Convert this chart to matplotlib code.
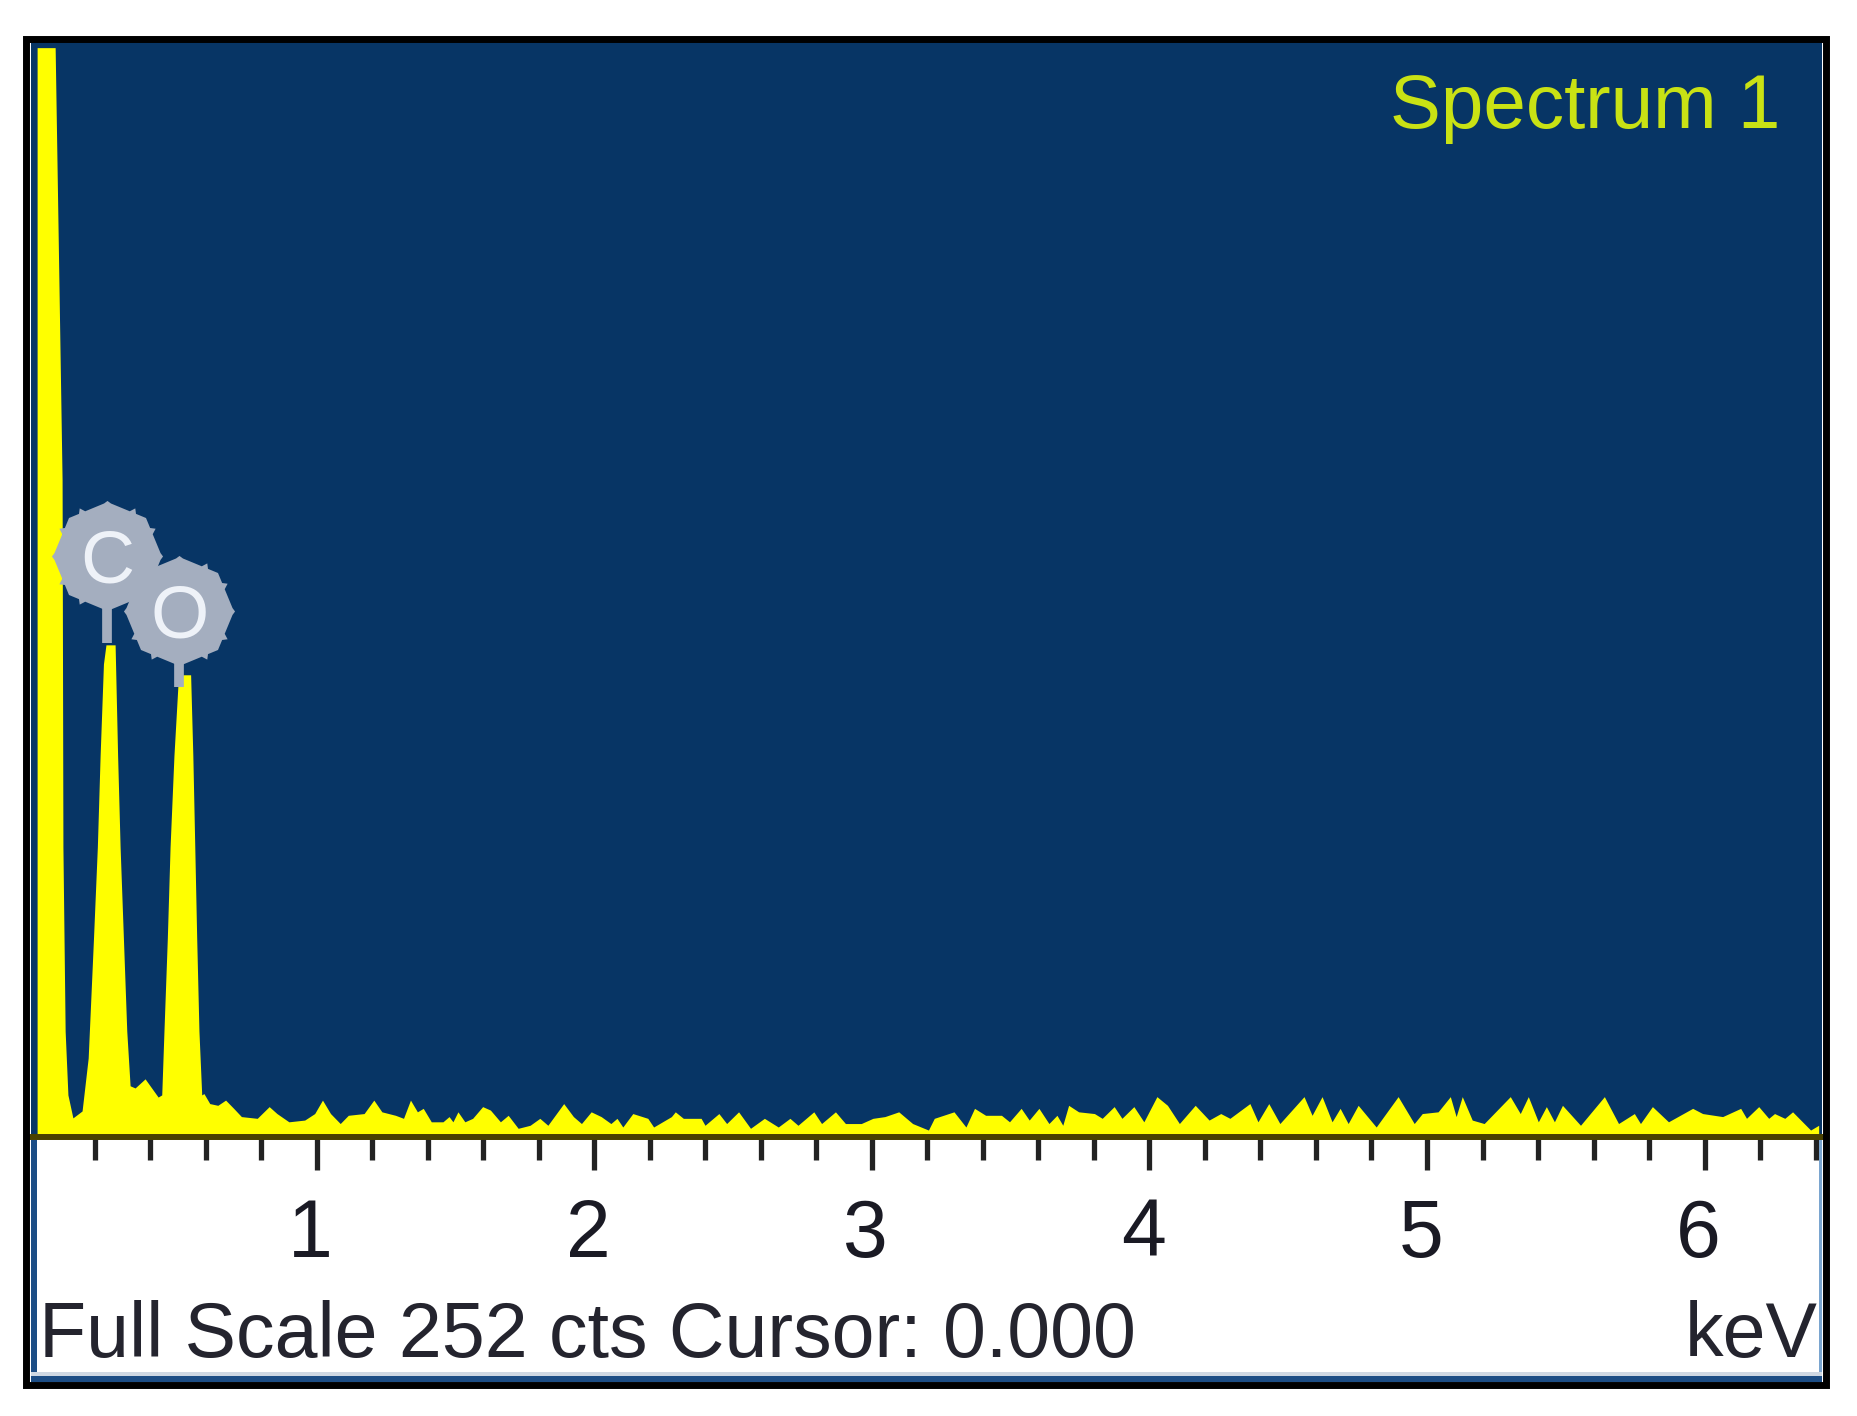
import matplotlib

matplotlib.use("Agg")

import matplotlib.pyplot as plt
import numpy as np
from matplotlib.patches import Rectangle

plt.rcParams["font.family"] = ["Liberation Sans", "DejaVu Sans"]

# spectrum outline
energy_kev = [
    -0.007, 0.058, 0.083, 0.086, 0.094, 0.104, 0.122, 0.155, 0.177, 0.196,
    0.210, 0.220, 0.232, 0.241, 0.274, 0.283, 0.292, 0.304, 0.316, 0.328,
    0.346, 0.382, 0.429, 0.442, 0.450, 0.462, 0.472, 0.486, 0.502, 0.519,
    0.546, 0.554, 0.561, 0.568, 0.576, 0.586,
    0.594, 0.615, 0.644,
    0.672, 0.701, 0.729, 0.786, 0.829, 0.857, 0.900, 0.957, 0.993, 1.021,
    1.050, 1.085, 1.114, 1.171, 1.206, 1.235, 1.284, 1.313, 1.338, 1.363,
    1.384, 1.413, 1.455, 1.477, 1.491, 1.509, 1.534, 1.562, 1.598, 1.626,
    1.662, 1.690, 1.726, 1.769, 1.804, 1.833, 1.890, 1.925, 1.954, 1.989,
    2.025, 2.060, 2.082, 2.103, 2.139, 2.193, 2.214, 2.278, 2.292, 2.321,
    2.385, 2.399, 2.449, 2.477, 2.520, 2.563, 2.613, 2.663, 2.705, 2.734,
    2.791, 2.819, 2.869, 2.905, 2.962, 3.004, 3.047, 3.097, 3.147, 3.204,
    3.225, 3.296, 3.339, 3.370, 3.410, 3.467, 3.496, 3.538, 3.567, 3.602,
    3.638, 3.667, 3.688, 3.709, 3.745, 3.802, 3.830, 3.873, 3.901, 3.944,
    3.980, 4.027, 4.065, 4.108, 4.165, 4.215, 4.257, 4.290, 4.362, 4.391,
    4.430, 4.470, 4.557, 4.586, 4.622, 4.658, 4.687, 4.716, 4.752, 4.817,
    4.896, 4.954, 4.983, 5.040, 5.084, 5.105, 5.127, 5.163, 5.206, 5.300,
    5.336, 5.365, 5.401, 5.430, 5.459, 5.488, 5.553, 5.639, 5.690, 5.747,
    5.769, 5.812, 5.870, 5.957, 5.993, 6.065, 6.130, 6.151, 6.195, 6.231,
    6.252, 6.289, 6.317, 6.382, 6.411,
]
counts = [
    251, 251, 151.4, 66.8, 24.4, 9.7, 4.4, 6.0, 18.2, 45.6,
    66.8, 87.9, 109, 113.4, 113.4, 87.9, 66.8, 45.6, 24.4, 11.8,
    11.3, 13.4, 9.2, 9.7, 24.4, 45.6, 66.8, 87.9, 106, 106.5,
    106.5, 87.9, 66.8, 45.6, 24.4, 9.7,
    10.0, 7.7, 7.3,
    8.5, 6.6, 4.7, 4.3, 7.0, 5.4, 3.5, 3.9, 5.4, 8.5,
    5.4, 3.1, 5.0, 5.4, 8.5, 5.8, 5.0, 4.3, 8.5, 5.8,
    6.6, 3.5, 3.5, 4.7, 3.5, 5.8, 3.5, 4.3, 7.0, 6.2,
    3.5, 5.0, 2.0, 2.7, 4.3, 2.7, 7.7, 4.7, 3.1, 5.8,
    4.7, 3.1, 4.3, 2.3, 5.4, 4.3, 2.3, 4.7, 5.8, 4.3,
    4.3, 2.7, 5.4, 3.1, 5.8, 2.0, 4.3, 2.3, 4.3, 2.7,
    5.8, 3.1, 5.8, 3.1, 3.1, 4.3, 4.7, 5.8, 3.1, 1.6,
    4.3, 5.8, 2.3, 6.6, 5.0, 5.0, 3.5, 6.6, 3.9, 6.6,
    3.1, 5.0, 2.7, 7.3, 5.8, 5.4, 4.3, 7.0, 4.3, 7.0,
    3.5, 9.3, 7.3, 3.1, 7.3, 3.9, 5.4, 4.3, 7.7, 3.5,
    7.7, 3.1, 9.3, 5.0, 9.3, 3.5, 6.6, 3.1, 7.3, 2.3,
    9.3, 3.1, 5.4, 5.8, 9.3, 4.7, 9.3, 3.9, 3.1, 9.3,
    5.4, 9.3, 3.5, 7.0, 3.5, 7.3, 2.7, 9.3, 3.1, 5.4,
    3.1, 7.0, 3.5, 6.6, 5.4, 4.7, 6.6, 4.3, 7.0, 4.3,
    5.4, 4.3, 5.8, 1.6, 2.7,
]

major_ticks = [1, 2, 3, 4, 5, 6]
minor_ticks = [
    0.2, 0.4, 0.6, 0.8, 1.2, 1.4, 1.6, 1.8, 2.2, 2.4, 2.6, 2.8, 3.2, 3.4,
    3.6, 3.8, 4.2, 4.4, 4.6, 4.8, 5.2, 5.4, 5.6, 5.8, 6.2, 6.4,
]
tick_labels = ["1", "2", "3", "4", "5", "6"]

elements = ["C", "O"]
element_kev = [0.245, 0.505]
element_stem_counts = [113.8, 103.7]
element_badge_counts = [133.9, 121.2]

WIDTH, HEIGHT = 1858, 1416
NAVY = "#073565"
YELLOW = "#ffff00"
BORDER_BLUE = "#1c4d85"
BADGE_GREY = "#a4aebf"


def gear_marker():
    """Octagon outline with small teeth, like the element badges."""
    angles = np.linspace(0, 2 * np.pi, 96, endpoint=False)
    sector = np.pi / 8
    radii = np.cos(sector) / np.cos((angles % (2 * sector)) - sector)
    radii = radii * 0.98
    radii[::8] = 1.0
    return np.column_stack([radii * np.cos(angles), radii * np.sin(angles)])


def draw_spectrum(fig):
    left, right, top, bottom = 31, 1822, 42, 1137
    ax = fig.add_axes(
        [left / WIDTH, 1 - bottom / HEIGHT, (right - left) / WIDTH, (bottom - top) / HEIGHT]
    )
    ax.set_facecolor(NAVY)
    ax.set_xlim(-0.029, 6.423)
    ax.set_ylim(0, 252.3)

    ax.fill_between(energy_kev, counts, 0, color=YELLOW, lw=0, zorder=2)

    for side in ["top", "left", "right"]:
        ax.spines[side].set_visible(False)
    ax.spines["bottom"].set_color("#4a4200")
    ax.spines["bottom"].set_linewidth(4.3)

    ax.set_yticks([])
    ax.set_xticks(major_ticks)
    ax.set_xticks(minor_ticks, minor=True)
    ax.set_xticklabels([])
    ax.tick_params(axis="x", which="major", length=24, width=3.8, color="#222222")
    ax.tick_params(axis="x", which="minor", length=16.5, width=3.8, color="#222222")

    # labels sit a little left of their ticks
    for value, label in zip(major_ticks, tick_labels):
        ax.annotate(
            label,
            xy=(value, 0),
            xycoords=("data", "axes fraction"),
            xytext=(-4.3, -86.4),
            textcoords="offset points",
            ha="center",
            va="baseline",
            fontsize=58,
            color="#1a1a24",
            annotation_clip=False,
        )

    ax.vlines(element_kev, element_badge_counts, element_stem_counts,
              color=BADGE_GREY, lw=7, zorder=3)
    ax.scatter(element_kev, element_badge_counts, s=80**2, marker=gear_marker(),
               color=BADGE_GREY, lw=0, zorder=4)
    for name, x, y in zip(elements, element_kev, element_badge_counts):
        ax.text(x, y, name, ha="center", va="center_baseline", fontsize=54,
                color="#eef2f8", zorder=5)
    return ax


def draw_frame(fig):
    """Picture frame and the text strip, laid out in pixels."""
    ov = fig.add_axes([0, 0, 1, 1], zorder=10)
    ov.set_xlim(0, WIDTH)
    ov.set_ylim(HEIGHT, 0)
    ov.axis("off")

    ov.add_patch(Rectangle((31, 1140), 6, 237, color=BORDER_BLUE, lw=0))
    ov.add_patch(Rectangle((1819, 1140), 3, 237, color="#7aa5cf", lw=0))
    ov.add_patch(Rectangle((31, 1372), 1791, 4, color="#cfd8e3", lw=0))
    ov.add_patch(Rectangle((31, 1376), 1791, 6, color=BORDER_BLUE, lw=0))
    ov.add_patch(Rectangle((26.5, 38.5), 1800, 1346.5, fill=False, ec="black", lw=5))

    ov.text(1780, 128, "Spectrum 1", ha="right", va="baseline", fontsize=55,
            color="#c9e214")
    ov.text(39, 1357, "Full Scale 252 cts Cursor: 0.000", ha="left", va="baseline",
            fontsize=55.5, color="#24242e")
    ov.text(1818, 1357, "keV", ha="right", va="baseline", fontsize=55.5, color="#24242e")


def main():
    fig = plt.figure(figsize=(WIDTH / 100, HEIGHT / 100), dpi=100, facecolor="white")
    draw_spectrum(fig)
    draw_frame(fig)
    fig.savefig("out.png", dpi=100)


if __name__ == "__main__":
    main()
